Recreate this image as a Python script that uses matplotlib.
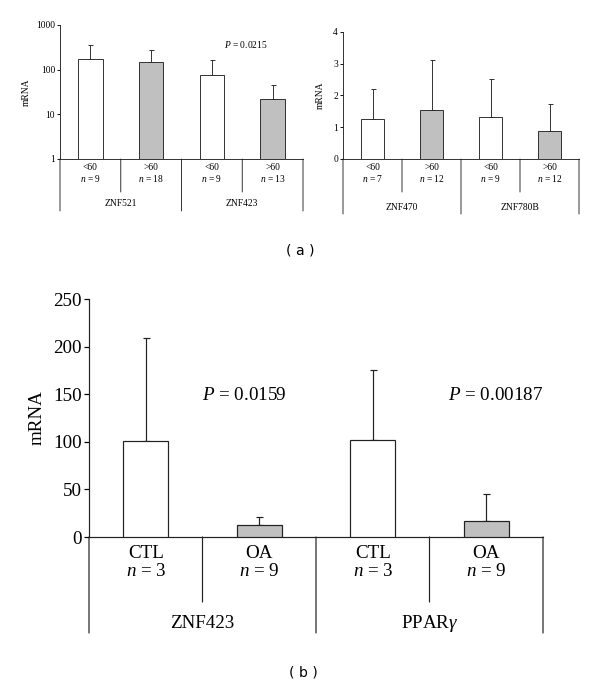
import matplotlib.pyplot as plt
import matplotlib.transforms as mtransforms
import numpy as np

plt.rcParams['font.family'] = 'Liberation Serif'
plt.rcParams['mathtext.fontset'] = 'custom'
plt.rcParams['mathtext.rm'] = 'Liberation Serif'
plt.rcParams['mathtext.it'] = 'Liberation Serif:italic'

# panel (a), left: ZNF521 / ZNF423 (log scale)
a1_groups = ['ZNF521', 'ZNF423']
a1_cats = ['<60', '>60', '<60', '>60']
a1_n = [9, 18, 9, 13]
a1_mean = [170, 146, 77, 22.4]
a1_upper = [350, 270, 162, 44.6]

# panel (a), right: ZNF470 / ZNF780B
a2_groups = ['ZNF470', 'ZNF780B']
a2_cats = ['<60', '>60', '<60', '>60']
a2_n = [7, 12, 9, 12]
a2_mean = [1.26, 1.54, 1.32, 0.87]
a2_upper = [2.21, 3.11, 2.52, 1.72]

# panel (b): ZNF423 / PPARgamma
b_groups = ['ZNF423', r'PPAR$\gamma$']
b_cats = ['CTL', 'OA', 'CTL', 'OA']
b_n = [3, 9, 3, 9]
b_mean = [101, 12.9, 102, 16.5]
b_upper = [208.7, 21, 175, 45.5]

W, H = 600, 687
fig = plt.figure(figsize=(W / 72, H / 72), dpi=72)


def px_axes(x0, x1, ytop, ybot):
    return fig.add_axes([x0 / W, 1 - ybot / H, (x1 - x0) / W, (ybot - ytop) / H])


def px_text(x, y, s, **kw):
    # place text by pixel position measured from the top-left corner
    fig.text(x / W, 1 - y / H, s, **kw)


def draw_panel(ax, mean, upper, cats, ns, groups, fs, lw, cap,
               d_cat, d_n, d_short, d_grp, d_long, log=False):
    x = np.arange(len(mean))
    colors = ['white', '#c0c0c0'] * 2
    base = 1 if log else 0
    heights = np.array(mean) - base
    ax.bar(x, heights, bottom=base, width=0.4, color=colors,
           edgecolor='#222222', linewidth=lw, zorder=3)
    err = np.array(upper) - np.array(mean)
    ax.errorbar(x, mean, yerr=[np.zeros_like(err), err], fmt='none',
                ecolor='#222222', elinewidth=lw, capsize=cap, capthick=lw, zorder=2)
    ax.set_xlim(-0.5, len(mean) - 0.5)
    ax.spines['top'].set_visible(False)
    ax.spines['right'].set_visible(False)
    for s in ['left', 'bottom']:
        ax.spines[s].set_linewidth(lw)
        ax.spines[s].set_color('#222222')
    ax.set_xticks([])
    ax.tick_params(axis='y', direction='out', length=3, width=lw, labelsize=fs, pad=2)

    tr = mtransforms.blended_transform_factory(ax.transData, ax.transAxes)
    off = lambda d: mtransforms.offset_copy(tr, fig=fig, x=0, y=-d, units='points')
    for i in range(len(mean)):
        ax.text(x[i], 0, cats[i], transform=off(d_cat), ha='center', va='center', fontsize=fs)
        ax.text(x[i], 0, f'$n$ = {ns[i]}', transform=off(d_n), ha='center', va='center', fontsize=fs)
    line = dict(arrowstyle='-', lw=lw, color='#222222', shrinkA=0, shrinkB=0)
    # short separators inside groups
    for xs in [0.5, 2.5]:
        ax.annotate('', xy=(xs, 0), xycoords=tr, xytext=(0, -d_short),
                    textcoords='offset points', arrowprops=line)
    # long separators between groups
    for xs in [-0.5, 1.5, 3.5]:
        ax.annotate('', xy=(xs, 0), xycoords=tr, xytext=(0, -d_long),
                    textcoords='offset points', arrowprops=line)
    for g, xc in zip(groups, [0.5, 2.5]):
        ax.text(xc, 0, g, transform=off(d_grp), ha='center', va='center', fontsize=fs)


# (a) left
ax1 = px_axes(60, 303, 25, 159)
ax1.set_yscale('log')
ax1.set_ylim(1, 1000)
ax1.set_yticks([1, 10, 100, 1000])
ax1.set_yticklabels(['1', '10', '100', '1000'])
ax1.yaxis.set_minor_locator(plt.NullLocator())
draw_panel(ax1, a1_mean, a1_upper, a1_cats, a1_n, a1_groups, 9.5, 0.9, 2.5,
           9, 19, 33, 45, 52, log=True)
ax1.set_ylabel('mRNA', fontsize=9.5, labelpad=5)
px_text(224, 44, '$P$ = 0.0215', fontsize=9.5, va='center')

# (a) right
ax2 = px_axes(343, 579, 31.8, 159)
ax2.set_ylim(0, 4)
ax2.set_yticks([0, 1, 2, 3, 4])
draw_panel(ax2, a2_mean, a2_upper, a2_cats, a2_n, a2_groups, 9.5, 0.9, 2.5,
           9, 19, 33, 49, 55)
ax2.set_ylabel('mRNA', fontsize=9.5, labelpad=8)

px_text(300, 250, '( a )', ha='center', va='center', fontsize=14, family='DejaVu Sans')

# (b)
ax3 = px_axes(89, 543, 299, 537)
ax3.set_ylim(0, 250)
ax3.set_yticks([0, 50, 100, 150, 200, 250])
draw_panel(ax3, b_mean, b_upper, b_cats, b_n, b_groups, 19, 1.2, 3.5,
           16, 35, 65, 86, 96)
ax3.tick_params(axis='y', length=5)
ax3.set_ylabel('mRNA', fontsize=19, labelpad=8)
px_text(202, 395, '$P$ = 0.0159', fontsize=19, va='center')
px_text(448, 395, '$P$ = 0.00187', fontsize=19, va='center')

px_text(303, 672, '( b )', ha='center', va='center', fontsize=14, family='DejaVu Sans')

fig.savefig('out.png', dpi=72)
